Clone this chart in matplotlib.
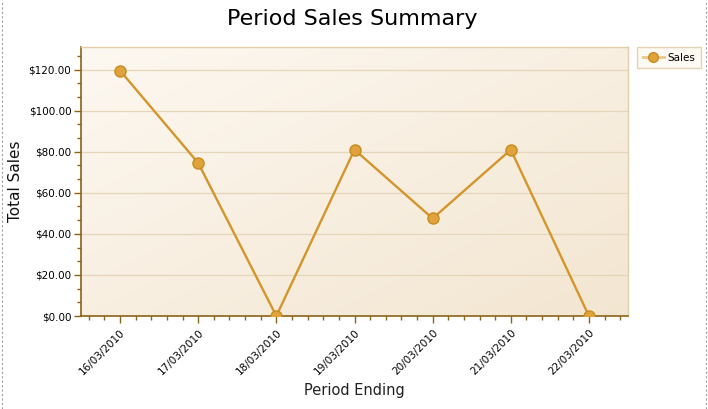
import matplotlib
matplotlib.use("Agg")
import matplotlib.pyplot as plt
import numpy as np
from matplotlib.lines import Line2D
from matplotlib.ticker import MultipleLocator

dates = ["16/03/2010", "17/03/2010", "18/03/2010", "19/03/2010",
         "20/03/2010", "21/03/2010", "22/03/2010"]
sales = [119.5, 74.5, 0.0, 81.0, 47.5, 81.0, 0.0]
yticks = [0, 20, 40, 60, 80, 100, 120]

fig = plt.figure(figsize=(7.08, 4.09), dpi=100)
W, H = 708, 409
ax = fig.add_axes([81 / W, (H - 316) / H, 547 / W, 269 / H])

x = np.arange(len(dates))
ax.set_xlim(-0.5, len(dates) - 0.5)
ax.set_ylim(0, 131)

# gradient background
c1 = np.array([0xFD, 0xF8, 0xF1]) / 255
c2 = np.array([0xF3, 0xE6, 0xD1]) / 255
gx, gy = np.meshgrid(np.linspace(0, 1, 200), np.linspace(0, 1, 200))
t = (gx + gy) / 2
img = c1[None, None, :] * (1 - t[..., None]) + c2[None, None, :] * t[..., None]
ax.imshow(img, extent=[-0.5, len(dates) - 0.5, 0, 131], aspect="auto",
          origin="upper", zorder=0)

for v in yticks:
    ax.axhline(v, color="#E5D6BA", lw=0.9, zorder=1)

ax.plot(x, sales, color="#D4952A", lw=1.7, marker="o", markersize=8,
        markerfacecolor="#E0A23A", markeredgecolor="#C98C22", markeredgewidth=1,
        zorder=3, label="Sales", clip_on=True)

ax.set_xticks(x)
ax.set_xticklabels(dates, rotation=45, ha="right", rotation_mode="anchor", fontsize=7.5)
ax.xaxis.set_minor_locator(MultipleLocator(0.2))
ax.set_yticks(yticks)
ax.set_yticklabels(["$%.2f" % v for v in yticks], fontsize=7.5)
ax.yaxis.set_minor_locator(MultipleLocator(20 / 3))

axc = "#8A6418"
for s in ["left", "bottom"]:
    ax.spines[s].set_color(axc)
    ax.spines[s].set_linewidth(1.2)
for s in ["top", "right"]:
    ax.spines[s].set_color("#E0CFA8")
    ax.spines[s].set_linewidth(1.0)
ax.tick_params(which="major", length=5, color=axc, width=1, pad=2)
ax.tick_params(which="minor", length=3, color=axc, width=1)
ax.tick_params(axis="x", which="major", pad=3)

ax.set_xlabel("Period Ending", fontsize=10.5, labelpad=5, color="#222222")
ax.set_ylabel("Total Sales", fontsize=11, labelpad=4, color="#111111")
fig.text(352 / W, 1 - 19 / H, "Period Sales Summary", ha="center", va="center",
         fontsize=16)

leg = fig.legend(handles=[Line2D([0], [0], color="#E8C88C", lw=2, marker="o",
                                 markersize=7, markerfacecolor="#E0A23A",
                                 markeredgecolor="#C98C22")],
                 labels=["Sales"], loc="upper left",
                 bbox_to_anchor=(637 / W, 1 - 47 / H), fontsize=7.5,
                 frameon=True, fancybox=False, handlelength=2.0,
                 borderpad=0.55, handletextpad=0.4, borderaxespad=0)
leg.get_frame().set_edgecolor("#DCC9A0")
leg.get_frame().set_facecolor("#FDF8F1")
leg.get_frame().set_linewidth(1)

for xx in [1.5 / W, 705.5 / W]:
    fig.add_artist(Line2D([xx, xx], [0, 1], transform=fig.transFigure,
                          color="#A0A0A0", lw=0.8, ls=(0, (2, 2))))

fig.savefig("out.png", dpi=100)
